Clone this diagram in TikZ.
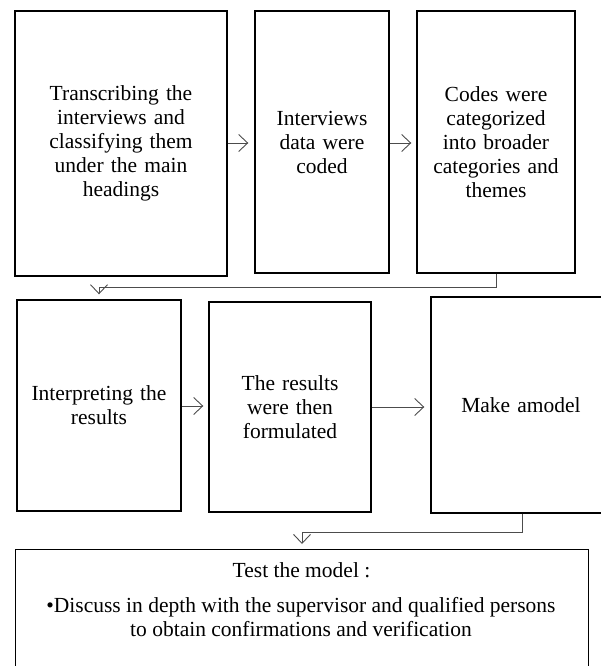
\documentclass[tikz,border=0pt]{standalone}
\usepackage{fontspec}
\setmainfont{Liberation Serif}
\usetikzlibrary{arrows.meta}
\begin{document}
\begin{tikzpicture}[x=1pt,y=-1pt,
  box/.style={draw=black, line width=1.4pt, align=center, inner sep=0pt,
    font=\fontsize{21.5}{24}\selectfont},
  conn/.style={draw=black!70, line width=0.9pt,
    -{Straight Barb[length=9pt,width=17pt,line width=0.9pt]}},
  txt/.style={align=center, font=\fontsize{21.5}{24}\selectfont}]
\useasboundingbox (0,0) rectangle (601,666);
\clip (0,0) rectangle (601,666);
\node[box, minimum width=212pt, minimum height=265pt, text width=205pt] (A) at (121,143.5)
  {Transcribing the\\interviews and\\classifying them\\under the main\\headings};
\node[box, minimum width=134pt, minimum height=262pt, text width=130pt] (B) at (322,142)
  {Interviews\\data were\\coded};
\node[box, minimum width=158pt, minimum height=262pt, text width=155pt] (C) at (496,142)
  {Codes were\\categorized\\into broader\\categories and\\themes};
\node[box, minimum width=164pt, minimum height=211pt, text width=160pt] (D) at (99,405.5)
  {Interpreting the\\results};
\node[box, minimum width=162pt, minimum height=210pt, text width=158pt] (E) at (290,407)
  {The results\\were then\\formulated};
\node[box, minimum width=180pt, minimum height=216pt, text width=170pt] (F) at (521,405)
  {Make amodel};
\node[box, minimum width=573pt, minimum height=130pt, anchor=north west] (G) at (15,549) {};
\node[txt, anchor=north] (Gt) at (301.5,559) {Test the model :};
\node[txt, anchor=north] (Gb) at (301,594)
  {•Discuss in depth with the supervisor and qualified persons\\to obtain confirmations and verification};
\coordinate (c1) at (496,287);
\coordinate (c2) at (99,287);
\coordinate (f1) at (522,532);
\coordinate (f2) at (302,532);
\draw[conn, shorten >=6pt] (A.east |- 0,143) -- (B.west |- 0,143);
\draw[conn, shorten >=5pt] (B.east |- 0,143) -- (C.west |- 0,143);
\draw[conn, shorten >=5pt] (C.south) -- (c1) -- (c2) -- (D.north -| c2);
\draw[conn, shorten >=5pt] (D.east |- 0,406) -- (E.west |- 0,406);
\draw[conn, shorten >=6pt] (E.east |- 0,407) -- (F.west |- 0,407);
\draw[conn, shorten >=5pt] (F.south -| f1) -- (f1) -- (f2) -- (G.north -| f2);
\end{tikzpicture}
\end{document}
